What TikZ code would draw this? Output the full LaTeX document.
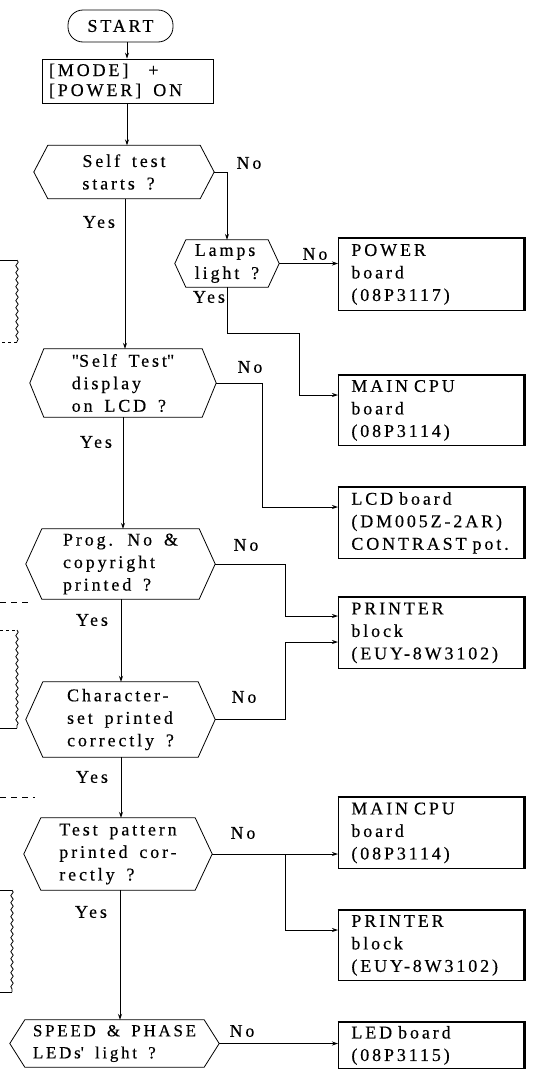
\documentclass[tikz,border=0pt]{standalone}
\usepackage{fontspec}
\setmainfont[LetterSpace=16,WordSpace=1.6,FakeBold=0.4]{Liberation Serif}
\usetikzlibrary{calc,arrows.meta,decorations.pathmorphing}
\newcommand\hexa[2]{\draw[ln] ([xshift=#2]#1.north west) -- ([xshift=-#2]#1.north east) -- (#1.east) -- ([xshift=-#2]#1.south east) -- ([xshift=#2]#1.south west) -- (#1.west) -- cycle;}
\newcommand\thickedge[1]{\draw[line width=2pt] ([xshift=-0.4pt]#1.north west) -- (#1.north east); \draw[line width=3pt] ([yshift=1pt]#1.north east) -- ([yshift=-0.5pt]#1.south east);}
\begin{document}
\begin{tikzpicture}[x=1pt,y=-1pt,
  every node/.style={font=\fontsize{18}{22.5}\selectfont},
  ln/.style={line width=0.8pt},
  arr/.style={ln,-{Stealth[length=6pt,width=4pt]}},
  hexnode/.style={inner sep=0pt, align=left},
  boxnode/.style={draw, ln, minimum width=186pt, text width=160pt, inner xsep=13pt, inner ysep=0pt, align=left, anchor=north west},
  lbl/.style={inner sep=0pt},
  wavy/.style={ln, decorate, decoration={snake, amplitude=1.2pt, segment length=7pt}}]
\useasboundingbox (0,0) rectangle (533,1071);

% main column
\node[draw, ln, rounded corners=15pt, minimum width=105pt, minimum height=32pt, inner sep=0pt] (start) at (120.5,26) {START};
\node[draw, ln, minimum width=171pt, minimum height=44pt, text width=157pt, inner xsep=7pt, inner ysep=0pt, align=left, font=\fontsize{18}{20}\selectfont] (mode) at (127.5,81) {[MODE]\hspace{20pt}+\\{}[POWER]\hspace{6pt} ON};

\node[hexnode, minimum width=180pt, minimum height=53pt] (h1) at (124,172) {Self test\\starts ?};
\hexa{h1}{14pt}
\node[hexnode, minimum width=104pt, minimum height=47pt, font=\fontsize{18}{23}\selectfont] (lamps) at (227,263.5) {Lamps\\light ?};
\hexa{lamps}{11pt}
\node[hexnode, minimum width=186pt, minimum height=68pt] (h2) at (123,383) {\textquotedbl Self Test\textquotedbl\\display\\on LCD ?};
\hexa{h2}{14pt}
\node[hexnode, minimum width=189pt, minimum height=70pt] (prog) at (120.5,564) {Prog. No \&\\copyright\\printed ?};
\hexa{prog}{16pt}
\node[hexnode, minimum width=189pt, minimum height=75pt] (char) at (120.5,719.5) {Character-\\set printed\\correctly ?};
\hexa{char}{17pt}
\node[hexnode, minimum width=188pt, minimum height=72pt] (test) at (118,854) {Test pattern\\printed cor-\\rectly ?};
\hexa{test}{17pt}
\node[hexnode, minimum width=209pt, minimum height=47pt, font=\fontsize{17}{22}\selectfont] (speed) at (114.5,1043.5) {SPEED \& PHASE\\LEDs\textquotesingle\ light ?};
\hexa{speed}{15pt}

% right column boxes
\node[boxnode, minimum height=72pt] (power) at (338,238) {POWER\\board\\(08P3117)};
\node[boxnode, minimum height=70pt] (cpu1) at (338,375) {MAIN CPU\\board\\(08P3114)};
\node[boxnode, minimum height=71pt] (lcd) at (338,487) {LCD board\\(DM005Z-2AR)\\\mbox{CONTRAST pot.}};
\node[boxnode, minimum height=71pt] (prn1) at (338,597) {PRINTER\\block\\(EUY-8W3102)};
\node[boxnode, minimum height=71pt] (cpu2) at (338,797) {MAIN CPU\\board\\(08P3114)};
\node[boxnode, minimum height=70pt] (prn2) at (338,910) {PRINTER\\block\\(EUY-8W3102)};
\node[boxnode, minimum height=46pt] (led) at (338,1022) {LED board\\(08P3115)};
\thickedge{power}\thickedge{cpu1}\thickedge{lcd}\thickedge{prn1}\thickedge{cpu2}\thickedge{prn2}\thickedge{led}

% guide coordinates
\coordinate (L0) at (127,0);
\coordinate (L1) at (125,0);
\coordinate (L2) at (123,0);
\coordinate (L3) at (121,0);
\coordinate (L4) at (120,0);
\coordinate (V1) at (262,0);
\coordinate (V2) at (285,0);
\coordinate (j1) at (299,333);
\coordinate (cpu1in) at ($(cpu1.north west)+(0,20)$);
\coordinate (lcdin) at ($(lcd.north west)+(0,20)$);
\coordinate (pin1) at ($(prn1.north west)+(0,19)$);
\coordinate (pin2) at ($(prn1.north west)+(0,45)$);
\coordinate (pin3) at ($(prn2.north west)+(0,20)$);

% connectors
\draw[arr] (start.south -| L0) -- (mode.north -| L0);
\draw[arr] (mode.south -| L0) -- (h1.north -| L0);
\draw[arr] (h1.south -| L1) -- (h2.north -| L1);
\draw[arr] (h2.south -| L2) -- (prog.north -| L2);
\draw[arr] (prog.south -| L3) -- (char.north -| L3);
\draw[arr] (char.south -| L3) -- (test.north -| L3);
\draw[arr] (test.south -| L4) -- (speed.north -| L4);

\draw[arr] (h1.east) -| (lamps.north);
\draw[arr] (lamps.east) -- (lamps.east -| power.west);
\draw[arr] (lamps.south) |- (j1) |- (cpu1in);
\draw[arr] (h2.east) -- (h2.east -| V1) -- (V1 |- lcdin) -- (lcdin);
\draw[arr] (prog.east) -- (prog.east -| V2) -- (V2 |- pin1) -- (pin1);
\draw[arr] (char.east) -- (char.east -| V2) -- (V2 |- pin2) -- (pin2);
\draw[arr] (test.east) -- (test.east -| cpu2.west);
\draw[arr] (test.east -| V2) -- (V2 |- pin3) -- (pin3);
\draw[arr] (speed.east) -- (speed.east -| led.west);

% labels
\node[lbl] (n1) at (249,163) {No};
\node[lbl] (n2) at (315,254) {No};
\node[lbl] (n3) at (250,367) {No};
\node[lbl] (n4) at (246,545) {No};
\node[lbl] (n5) at (244,697) {No};
\node[lbl] (n6) at (243,833) {No};
\node[lbl] (n7) at (242,1031) {No};
\node[lbl] (y1) at (99,222) {Yes};
\node[lbl] (y2) at (209,297) {Yes};
\node[lbl] (y3) at (96,442) {Yes};
\node[lbl] (y4) at (92,620) {Yes};
\node[lbl] (y5) at (92,777) {Yes};
\node[lbl] (y6) at (91,912) {Yes};

% cut-off parts at the left edge
\draw[ln] (0,260) -- (17,260);
\draw[wavy] (17,260) -- (17,342);
\draw[ln, dashed] (17,342) -- (0,342);
\draw[ln, dashed] (0,630) -- (17,630);
\draw[wavy] (17,630) -- (17,728);
\draw[ln] (17,728) -- (0,728);
\draw[ln] (0,890) -- (12,890);
\draw[wavy] (12,890) -- (12,992);
\draw[ln] (12,992) -- (0,992);
\draw[ln, dash pattern=on 6pt off 5pt] (0,602) -- (32,602);
\draw[ln, dash pattern=on 6pt off 5pt] (0,797) -- (35,797);
\end{tikzpicture}
\end{document}
